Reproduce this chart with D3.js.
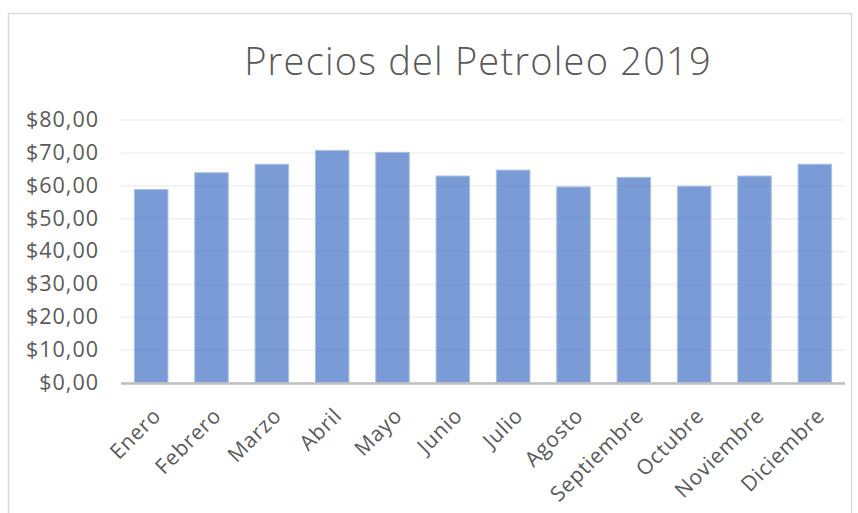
<!DOCTYPE html>
<html>
<head>
<meta charset="utf-8">
<script src="https://cdn.jsdelivr.net/npm/d3@7"></script>
<style>
  body { margin: 0; background: #fff; }
  text { font-family: "Open Sans", "Noto Sans", sans-serif; fill: #595959; }
</style>
</head>
<body>
<div id="chart"></div>
<script>
const months = ["Enero", "Febrero", "Marzo", "Abril", "Mayo", "Junio", "Julio",
    "Agosto", "Septiembre", "Octubre", "Noviembre", "Diciembre"]
const prices = [58.7, 63.8, 66.4, 70.6, 70.0, 62.8, 64.6, 59.5, 62.4, 59.7, 62.8, 66.4]
const yTicks = [0, 10, 20, 30, 40, 50, 60, 70, 80]

const W = 858, H = 513
const MARGIN = { top: 119.5, bot: 382.5, left: 121, right: 845 }

const svg = d3.select("#chart")
    .append("svg")
    .attr("width", W)
    .attr("height", H)

// chart area border
svg.append("rect")
    .attr("x", 8.5)
    .attr("y", 13.5)
    .attr("width", 843)
    .attr("height", 520)
    .attr("fill", "#fff")
    .attr("stroke", "#d9d9d9")
    .attr("stroke-width", 1.5)

svg.append("text")
    .attr("x", 478)
    .attr("y", 75)
    .attr("text-anchor", "middle")
    .attr("font-size", 38)
    .attr("font-weight", 300)
    .attr("letter-spacing", 1.2)
    .text("Precios del Petroleo 2019")

const x = d3.scaleBand()
    .domain(months)
    .range([MARGIN.left, MARGIN.right])
    .paddingInner(0.8 / 1.8)
    .paddingOuter(0.4 / 1.8)

const y = d3.scaleLinear()
    .domain([0, 80])
    .range([MARGIN.bot, MARGIN.top])

const fmt = d => "$" + d3.format(".2f")(d).replace(".", ",")

// gridlines
svg.append("g")
    .attr("transform", `translate(${MARGIN.left}, 0)`)
    .call(d3.axisLeft(y).tickValues(yTicks).tickSize(-(MARGIN.right - MARGIN.left)).tickFormat(""))
    .call(g => g.select(".domain").remove())
    .call(g => g.selectAll("line").attr("stroke", "#efefef").attr("stroke-width", 1.5))

// y labels
svg.append("g")
    .attr("transform", `translate(${MARGIN.left}, 0)`)
    .call(d3.axisLeft(y).tickValues(yTicks).tickSize(0).tickPadding(22).tickFormat(fmt))
    .call(g => g.select(".domain").remove())
    .call(g => g.selectAll("text").attr("font-size", 21.5).attr("letter-spacing", 1)
        .attr("fill", "#595959").style("font-family", "'Open Sans', sans-serif"))

svg.append("g")
    .selectAll("rect")
    .data(prices)
    .join("rect")
    .attr("x", (d, i) => x(months[i]))
    .attr("y", d => y(d))
    .attr("width", x.bandwidth())
    .attr("height", d => y(0) - y(d))
    .attr("fill", "#4472c4")
    .attr("fill-opacity", 0.71)
    .attr("stroke", "#a9c0e8")
    .attr("stroke-width", 1)

// x axis line
svg.append("line")
    .attr("x1", MARGIN.left)
    .attr("x2", MARGIN.right)
    .attr("y1", y(0) + 1)
    .attr("y2", y(0) + 1)
    .attr("stroke", "#bfbfbf")
    .attr("stroke-width", 2.5)

svg.append("g")
    .selectAll("text")
    .data(months)
    .join("text")
    .attr("transform", d => `translate(${x(d) + x.bandwidth() / 2 + 11}, 417) rotate(-45)`)
    .attr("text-anchor", "end")
    .attr("font-size", 21)
    .attr("letter-spacing", 0.8)
    .text(d => d)
</script>
</body>
</html>
